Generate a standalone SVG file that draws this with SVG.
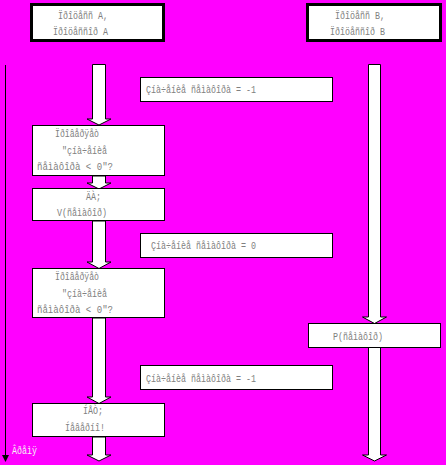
<svg xmlns="http://www.w3.org/2000/svg" width="446" height="465" viewBox="0 0 446 465">
<style>
.bg{fill:#ff00ff}
.box{fill:#ffffff;stroke:#000000;stroke-width:1}
.thick{fill:#ffffff;stroke:#000000;stroke-width:3}
.arr{fill:#ffffff;stroke:#000000;stroke-width:1}
.t{font-family:"Liberation Mono","DejaVu Sans Mono",monospace;font-size:11px;fill:#808080}
.time{font-family:"Liberation Mono","DejaVu Sans Mono",monospace;font-size:11px;fill:#f4f4f4}
</style>
<rect class="bg" x="0" y="0" width="446" height="465"/>
<g id="connectors">
<line x1="5.5" y1="65" x2="5.5" y2="456" stroke="#000" stroke-width="1"/>
<polygon points="2,455 9,455 5.5,462" fill="#000"/>
<polygon class="arr" points="92.5,64.5 105.5,64.5 105.5,119 111,119 99,125 87,119 92.5,119"/>
<polygon class="arr" points="92.5,176 105.5,176 105.5,183 111,183 99,189 87,183 92.5,183"/>
<polygon class="arr" points="92.5,221 105.5,221 105.5,262 111,262 99,268.5 87,262 92.5,262"/>
<polygon class="arr" points="92.5,318 105.5,318 105.5,397 111,397 99,403.5 87,397 92.5,397"/>
<polygon class="arr" points="92.5,437 105.5,437 105.5,455 111,455 99,461 87,455 92.5,455"/>
<polygon class="arr" points="368.5,64.5 380.5,64.5 380.5,317 386.5,317 374.5,323.5 362.5,317 368.5,317"/>
<polygon class="arr" points="368.5,347 380.5,347 380.5,455 386.5,455 374.5,461 362.5,455 368.5,455"/>
</g>
<g id="procA">
<rect class="thick" x="31.5" y="4.5" width="132" height="36"/>
<text class="t" x="58" y="19" textLength="50" lengthAdjust="spacingAndGlyphs">Ïðîöåññ A,</text>
<text class="t" x="53" y="35" textLength="55" lengthAdjust="spacingAndGlyphs">Ïðîöåññîð A</text>
</g>
<g id="procB">
<rect class="thick" x="307.5" y="4.5" width="133" height="36"/>
<text class="t" x="335" y="19" textLength="50" lengthAdjust="spacingAndGlyphs">Ïðîöåññ B,</text>
<text class="t" x="330" y="35" textLength="55" lengthAdjust="spacingAndGlyphs">Ïðîöåññîð B</text>
</g>
<g id="sem1">
<rect class="box" x="140.5" y="77.5" width="192" height="24"/>
<text class="t" x="146" y="93" textLength="110" lengthAdjust="spacingAndGlyphs">Çíà÷åíèå ñåìàôîðà = -1</text>
</g>
<g id="check1">
<rect class="box" x="32.5" y="125.5" width="132" height="50"/>
<text class="t" x="55" y="137" textLength="44" lengthAdjust="spacingAndGlyphs">Ïðîâåðÿåò</text>
<text class="t" x="62" y="154" textLength="45" lengthAdjust="spacingAndGlyphs">"çíà÷åíèå</text>
<text class="t" x="37" y="170" textLength="76" lengthAdjust="spacingAndGlyphs">ñåìàôîðà &lt; 0"?</text>
</g>
<g id="yes">
<rect class="box" x="32.5" y="188.5" width="132" height="32"/>
<text class="t" x="86" y="200" textLength="15" lengthAdjust="spacingAndGlyphs">ÄÀ;</text>
<text class="t" x="57" y="216" textLength="50" lengthAdjust="spacingAndGlyphs">V(ñåìàôîð)</text>
</g>
<g id="sem2">
<rect class="box" x="140.5" y="233.5" width="192" height="24"/>
<text class="t" x="151" y="249" textLength="105" lengthAdjust="spacingAndGlyphs">Çíà÷åíèå ñåìàôîðà = 0</text>
</g>
<g id="check2">
<rect class="box" x="32.5" y="268.5" width="132" height="49"/>
<text class="t" x="55" y="280" textLength="44" lengthAdjust="spacingAndGlyphs">Ïðîâåðÿåò</text>
<text class="t" x="62" y="297" textLength="45" lengthAdjust="spacingAndGlyphs">"çíà÷åíèå</text>
<text class="t" x="37" y="313" textLength="76" lengthAdjust="spacingAndGlyphs">ñåìàôîðà &lt; 0"?</text>
</g>
<g id="pB">
<rect class="box" x="308.5" y="323.5" width="132" height="24"/>
<text class="t" x="333" y="340" textLength="50" lengthAdjust="spacingAndGlyphs">P(ñåìàôîð)</text>
</g>
<g id="sem3">
<rect class="box" x="140.5" y="365.5" width="192" height="24"/>
<text class="t" x="146" y="382" textLength="110" lengthAdjust="spacingAndGlyphs">Çíà÷åíèå ñåìàôîðà = -1</text>
</g>
<g id="no">
<rect class="box" x="32.5" y="403.5" width="132" height="33"/>
<text class="t" x="83" y="414" textLength="20" lengthAdjust="spacingAndGlyphs">ÍÅÒ;</text>
<text class="t" x="65" y="431" textLength="40" lengthAdjust="spacingAndGlyphs">Íåâåðíî!</text>
</g>
<g id="time">
<text class="time" x="12" y="454" textLength="25" lengthAdjust="spacingAndGlyphs">Âðåìÿ</text>
</g>
</svg>
